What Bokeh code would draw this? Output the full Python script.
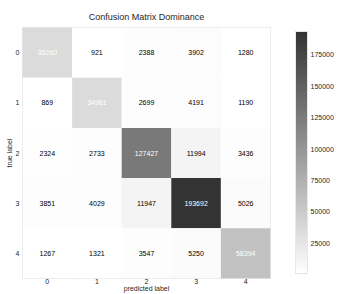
import numpy as np
from bokeh.plotting import figure
from bokeh.models import (ColumnDataSource, LinearColorMapper, ColorBar, FixedTicker,
                          Range1d, PrintfTickFormatter)
from bokeh.core.properties import value
from bokeh.embed import file_html
from bokeh.resources import INLINE

labels = ["0", "1", "2", "3", "4"]
matrix = [
    [35260, 921, 2388, 3902, 1280],
    [869, 34961, 2699, 4191, 1190],
    [2324, 2733, 127427, 11994, 3436],
    [3851, 4029, 11947, 193692, 5026],
    [1267, 1321, 3547, 5250, 58394],
]
cbar_ticks = [25000, 50000, 75000, 100000, 125000, 150000, 175000]

# linear white->black ramp, drawn at 0.8 opacity over white
pal = []
for t in np.linspace(0, 1, 256):
    g = 255 * (1 - t)
    g = 0.8 * g + 0.2 * 255
    gi = int(round(g))
    pal.append("#%02x%02x%02x" % (gi, gi, gi))

vals = np.array(matrix)
vmin, vmax = vals.min(), vals.max()
mapper = LinearColorMapper(palette=pal, low=vmin, high=vmax)

xx, yy, vv, tc, ts = [], [], [], [], []
for i in range(5):
    for j in range(5):
        xx.append(j)
        yy.append(i)
        vv.append(matrix[i][j])
        ts.append(str(matrix[i][j]))
        tc.append("white" if i == j else "black")
src = ColumnDataSource(dict(x=xx, y=yy, v=vv, t=ts, c=tc))

FONT = "Liberation Sans"
p = figure(width=338, height=294, output_backend="svg", toolbar_location=None,
           x_range=Range1d(-0.5, 4.5), y_range=Range1d(4.5, -0.5),
           min_border_left=22, min_border_right=68, min_border_top=27, min_border_bottom=0)
p.title.text = "Confusion Matrix Dominance"
p.title.align = "center"
p.title.text_font = FONT
p.title.text_font_style = "normal"
p.title.text_font_size = "9px"
p.title.text_color = "#262626"
p.title.standoff = 8
p.title.vertical_align = "top"

p.rect(x="x", y="y", width=1, height=1, source=src,
       fill_color={"field": "v", "transform": mapper}, line_color=None)
p.text(x="x", y="y", text="t", source=src, text_color="c", text_align="center",
       text_baseline="middle", text_font=value(FONT), text_font_size="7px")

for ax in (p.xaxis[0], p.yaxis[0]):
    ax.ticker = FixedTicker(ticks=[0, 1, 2, 3, 4])
    ax.major_label_overrides = {k: labels[k] for k in range(5)}
    ax.axis_line_color = None
    ax.major_tick_line_color = None
    ax.minor_tick_line_color = None
    ax.major_tick_in = 0
    ax.major_tick_out = 0
    ax.major_label_text_font = FONT
    ax.major_label_text_font_size = "7px"
    ax.major_label_text_color = "#262626"
    ax.axis_label_text_font = FONT
    ax.axis_label_text_font_size = "7px"
    ax.axis_label_text_font_style = "normal"
    ax.axis_label_text_color = "#262626"
    ax.axis_label_standoff = 0
p.xaxis.major_label_standoff = 0
p.xaxis.axis_label_standoff = -2
p.yaxis.major_label_standoff = 3
p.xaxis.axis_label = "predicted label"
p.yaxis.axis_label = "true label"
p.yaxis.major_label_orientation = "horizontal"
p.grid.visible = False
p.outline_line_color = "#e6e6e6"
p.background_fill_color = "white"

cb = ColorBar(color_mapper=mapper, ticker=FixedTicker(ticks=cbar_ticks),
              formatter=PrintfTickFormatter(format="%d"),
              width=12, height=242, padding=0, location=(25, 5),
              major_label_text_font=FONT, major_label_text_font_size="7px",
              major_label_text_color="#262626", major_tick_line_color=None,
              minor_tick_line_color=None, bar_line_color="#e6e6e6",
              label_standoff=3, border_line_color=None, background_fill_color=None)
p.add_layout(cb, "right")

open("out.html", "w").write(file_html(p, INLINE))
